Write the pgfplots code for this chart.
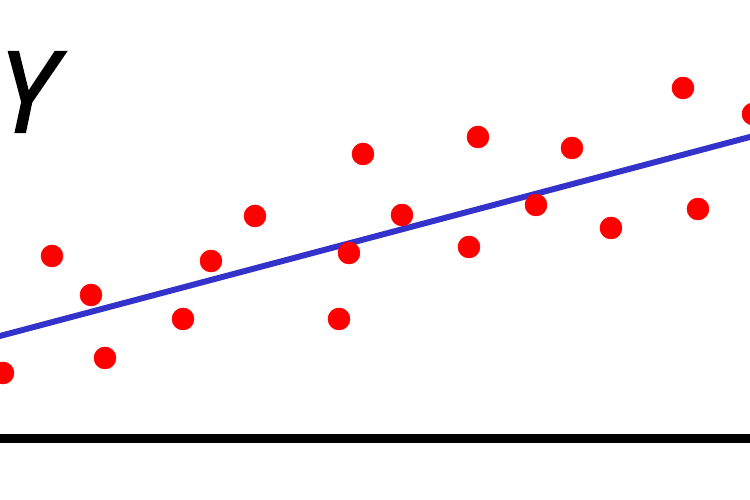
\documentclass[border=0pt]{standalone}
\usepackage{pgfplots}
\pgfplotsset{compat=1.18}
\usepackage{fontspec}
\newfontfamily\yfont[FakeBold=1.8]{Open Sans}
\definecolor{lineblue}{RGB}{51,51,204}
\begin{document}
\begin{tikzpicture}
\begin{axis}[
  at={(-0.4cm,0)}, anchor=south west,
  width=16cm, height=10cm, scale only axis,
  xmin=-20, xmax=780, ymin=0, ymax=500,
  axis lines=none, ticks=none,
  clip=true,
]
\addplot[black, line width=5.1pt] coordinates {(-20,61.5) (780,61.5)};
\addplot[lineblue, line width=3.4pt] coordinates {(-20,158.7) (780,371)};
\addplot[only marks, mark=*, mark size=6.2pt, color=red, mark options={fill=red, draw=red}] coordinates {
(3,127) (52,244) (91,205) (105,142) (183,181) (211,239) (255,284)
(339,181) (349,247) (363,346) (402,285) (469,253) (478,363) (536,295)
(572,352) (611,272) (683,412) (698,291) (753,386)
};
\node[anchor=center, inner sep=0pt] at (axis cs:27,408) {\yfont\itshape\fontsize{64}{64}\selectfont Y};
\end{axis}
\pgfresetboundingbox
\useasboundingbox (0,0) rectangle (15cm,10cm);
\end{tikzpicture}
\end{document}
